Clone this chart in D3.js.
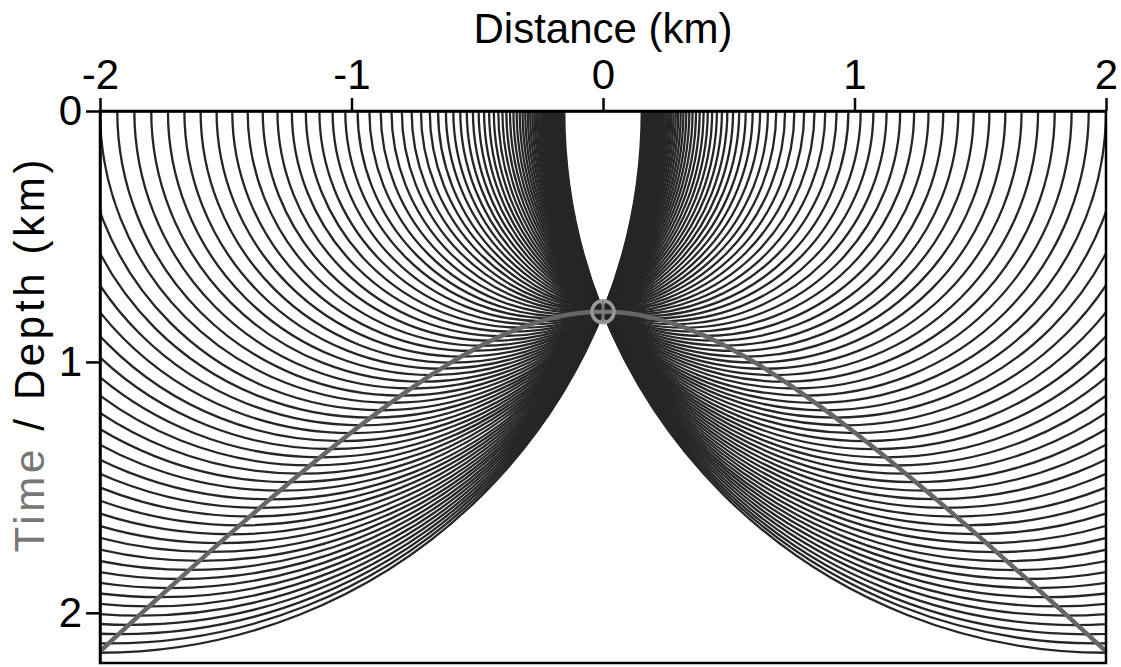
<!DOCTYPE html>
<html>
<head>
<meta charset="utf-8">
<script src="https://cdn.jsdelivr.net/npm/d3@7"></script>
<style>
  html, body { margin: 0; padding: 0; background: #fff; }
  svg { display: block; font-family: "Liberation Sans", Arial, sans-serif; }
</style>
</head>
<body>
<svg id="chart"></svg>
<script>
// Source (trace) positions along the surface, km
const sourceX = [
  -2.00, -1.96, -1.92, -1.88, -1.84, -1.80, -1.76, -1.72, -1.68, -1.64,
  -1.60, -1.56, -1.52, -1.48, -1.44, -1.40, -1.36, -1.32, -1.28, -1.24,
  -1.20, -1.16, -1.12, -1.08, -1.04, -1.00, -0.96, -0.92, -0.88, -0.84,
  -0.80, -0.76, -0.72, -0.68, -0.64, -0.60, -0.56, -0.52, -0.48, -0.44,
  -0.40, -0.36, -0.32, -0.28, -0.24, -0.20, -0.16, -0.12, -0.08, -0.04,
   0.00,  0.04,  0.08,  0.12,  0.16,  0.20,  0.24,  0.28,  0.32,  0.36,
   0.40,  0.44,  0.48,  0.52,  0.56,  0.60,  0.64,  0.68,  0.72,  0.76,
   0.80,  0.84,  0.88,  0.92,  0.96,  1.00,  1.04,  1.08,  1.12,  1.16,
   1.20,  1.24,  1.28,  1.32,  1.36,  1.40,  1.44,  1.48,  1.52,  1.56,
   1.60,  1.64,  1.68,  1.72,  1.76,  1.80,  1.84,  1.88,  1.92,  1.96,
   2.00
];
// Diffractor point (x, depth), km
const diffractor = { x: 0, z: 0.8 };

const xTicks = [-2, -1, 0, 1, 2];
const yTicks = [0, 1, 2];
const xDomain = [-2, 2];
const yDomain = [0, 2.2];

// travel time (as depth) from each source to the diffractor
const traces = sourceX.map(x => ({
    x: x,
    t: Math.hypot(x - diffractor.x, diffractor.z)
}));

const width = 1121;
const height = 667;
const margin = { top: 111, right: 15, bottom: 4, left: 100 };
const fontSize = '42px';

const svg = d3.select('#chart')
    .attr('width', width)
    .attr('height', height);

const x = d3.scaleLinear().domain(xDomain).range([margin.left, width - margin.right]);
const y = d3.scaleLinear().domain(yDomain).range([margin.top, height - margin.bottom]);

// clip to plot box
svg.append('defs').append('clipPath')
    .attr('id', 'plot-clip')
    .append('rect')
    .attr('x', x(xDomain[0]))
    .attr('y', y(yDomain[0]))
    .attr('width', x(xDomain[1]) - x(xDomain[0]))
    .attr('height', y(yDomain[1]) - y(yDomain[0]));

const plot = svg.append('g').attr('clip-path', 'url(#plot-clip)');

// Semicircles: each trace spread over its isochron
plot.append('g')
    .selectAll('path')
    .data(traces)
    .join('path')
    .attr('d', d => {
        const p = d3.path();
        const r = x(d.x + d.t) - x(d.x);
        p.arc(x(d.x), y(0), r, Math.PI, 0, true);
        return p.toString();
    })
    .attr('fill', 'none')
    .attr('stroke', '#262626')
    .attr('stroke-width', 2.3);

// Diffraction hyperbola
const line = d3.line()
    .x(d => x(d.x))
    .y(d => y(d.t))
    .curve(d3.curveCatmullRom);

plot.append('path')
    .datum(traces)
    .attr('d', line)
    .attr('fill', 'none')
    .attr('stroke', '#666')
    .attr('stroke-width', 4.5);

// Diffractor marker
const mk = plot.append('g')
    .attr('transform', `translate(${x(diffractor.x)},${y(diffractor.z)})`);
mk.append('circle')
    .attr('r', 11)
    .attr('fill', 'none')
    .attr('stroke', '#9a9a9a')
    .attr('stroke-width', 3.5);
mk.append('path')
    .attr('d', 'M-10,0H10M0,-10V10')
    .attr('stroke', '#7a7a7a')
    .attr('stroke-width', 3);

// Frame
svg.append('rect')
    .attr('x', x(xDomain[0]))
    .attr('y', y(yDomain[0]))
    .attr('width', x(xDomain[1]) - x(xDomain[0]))
    .attr('height', y(yDomain[1]) - y(yDomain[0]))
    .attr('fill', 'none')
    .attr('stroke', '#000')
    .attr('stroke-width', 2.5);

// Axes
const xAxis = svg.append('g')
    .attr('transform', `translate(0,${y(0)})`)
    .call(d3.axisTop(x).tickValues(xTicks).tickFormat(d3.format('d')).tickSizeInner(13).tickSizeOuter(0).tickPadding(9));
const yAxis = svg.append('g')
    .attr('transform', `translate(${x(-2)},0)`)
    .call(d3.axisLeft(y).tickValues(yTicks).tickFormat(d3.format('d')).tickSizeInner(14).tickSizeOuter(0).tickPadding(4));

[xAxis, yAxis].forEach(g => {
    g.select('.domain').attr('stroke-width', 2.5);
    g.selectAll('.tick line').attr('stroke-width', 2.5);
    g.selectAll('.tick text')
        .attr('fill', '#000')
        .style('font-size', fontSize)
        .style('font-family', '"Liberation Sans", Arial, sans-serif');
});
xAxis.selectAll('.tick text').text(d => d < 0 ? '-' + Math.abs(d) : d);

// Titles
svg.append('text')
    .attr('x', x(0))
    .attr('y', 43)
    .attr('text-anchor', 'middle')
    .style('font-size', fontSize)
    .text('Distance (km)');

const yTitle = svg.append('text')
    .attr('transform', `translate(44,356) rotate(-90)`)
    .attr('text-anchor', 'middle')
    .attr('textLength', 393)
    .attr('lengthAdjust', 'spacing')
    .style('font-size', fontSize);
yTitle.append('tspan').attr('fill', '#777').text('Time');
yTitle.append('tspan').attr('fill', '#000').text(' / Depth (km)');
</script>
</body>
</html>
